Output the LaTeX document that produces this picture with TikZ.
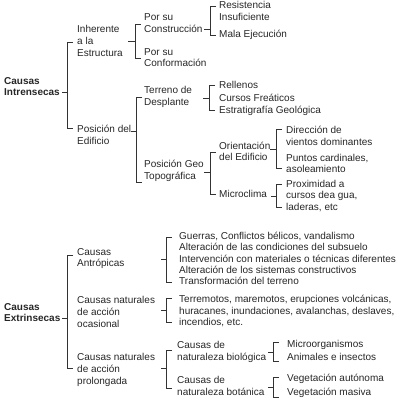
\documentclass[tikz,border=0pt]{standalone}
\usepackage{fontspec}
\setmainfont{Liberation Sans}
\definecolor{txt}{HTML}{262626}
\definecolor{ln}{HTML}{333333}
\tikzset{
 lbl/.style={anchor=west, inner sep=0pt, align=left, font=\fontsize{10}{11.6}\selectfont, text=txt},
 mainlbl/.style={lbl, font=\bfseries\fontsize{10}{11.6}\selectfont},
 brk/.style={draw=ln, line width=0.8pt},
}
% tick x start, vertical x, tick y, top y, bottom y, hook end x
\newcommand\bkt[6]{\draw[brk] (#1,#3)--(#2,#3); \draw[brk] (#6,#4)-|(#2,#5)--(#6,#5);}
\begin{document}
\begin{tikzpicture}[x=1pt,y=-1pt]
\useasboundingbox (0,0) rectangle (400,403);
% ---------- Intrensecas
\node[mainlbl] (ci) at (4,86.5) {Causas\\Intrensecas};
\node[lbl] (inh) at (77,41) {Inherente\\a la\\Estructura};
\node[lbl] (pos) at (77,135) {Posición del\\Edificio};
\node[lbl] (psc) at (144,23) {Por su\\Construcción};
\node[lbl] (psf) at (144,57.5) {Por su\\Conformación};
\node[lbl] (res) at (219,11) {Resistencia\\Insuficiente};
\node[lbl] (mal) at (219,35) {Mala Ejecución};
\node[lbl] (ter) at (144,97) {Terreno de\\Desplante};
\node[lbl] (pgt) at (144,171) {Posición Geo\\Topográfica};
\node[lbl] (rel) at (219,85) {Rellenos};
\node[lbl] (cfr) at (219,98) {Cursos Freáticos};
\node[lbl] (est) at (219,111) {Estratigrafía Geológica};
\node[lbl] (ori) at (219,151.5) {Orientación\\del Edificio};
\node[lbl] (mic) at (219,194) {Microclima};
\node[lbl] (dir) at (286,136) {Dirección de\\vientos dominantes};
\node[lbl] (pun) at (286,163.5) {Puntos cardinales,\\asoleamiento};
\node[lbl] (pro) at (286,196) {Proximidad a\\cursos dea gua,\\laderas, etc};
% ---------- Extrinsecas
\node[mainlbl] (ce) at (4,312.5) {Causas\\Extrinsecas};
\node[lbl] (ant) at (77,258.5) {Causas\\Antrópicas};
\node[lbl] (oca) at (77,312) {Causas naturales\\de acción\\ocasional};
\node[lbl] (prl) at (77,370) {Causas naturales\\de acción\\prolongada};
\node[lbl] (a1) at (179,236) {Guerras, Conflictos bélicos, vandalismo};
\node[lbl] (a2) at (179,247) {Alteración de las condiciones del subsuelo};
\node[lbl] (a3) at (179,258.5) {Intervención con materiales o técnicas diferentes};
\node[lbl] (a4) at (179,270) {Alteración de los sistemas constructivos};
\node[lbl] (a5) at (179,281) {Transformación del terreno};
\node[lbl] (o1) at (179,300) {Terremotos, maremotos, erupciones volcánicas,};
\node[lbl] (o2) at (179,311.5) {huracanes, inundaciones, avalanchas, deslaves,};
\node[lbl] (o3) at (179,323) {incendios, etc.};
\node[lbl] (bio) at (177,352) {Causas de\\naturaleza biológica};
\node[lbl] (bot) at (177,386) {Causas de\\naturaleza botánica};
\node[lbl] (m1) at (287,345) {Microorganismos};
\node[lbl] (m2) at (287,357) {Animales e insectos};
\node[lbl] (v1) at (287,379) {Vegetación autónoma};
\node[lbl] (v2) at (287,393) {Vegetación masiva};
% ---------- brackets
\bkt{62}{67}{92}{42}{128}{73}
\bkt{128}{135}{41}{24}{58}{141}
\bkt{204}{210}{29}{6}{35}{216}
\bkt{131}{136}{131}{97}{182}{142}
\bkt{203}{209}{98}{85}{110}{215}
\bkt{204}{210}{172}{152}{194}{216}
\bkt{270}{276}{149}{129}{168}{282}
\bkt{271}{276}{196}{184}{207}{282}
\bkt{62}{67}{318}{255}{368}{73}
\bkt{161}{166}{259}{237}{282}{172}
\bkt{161}{166}{310}{298}{322}{172}
\bkt{161}{166}{368}{350}{388}{172}
\bkt{268}{273}{352}{342}{361}{279}
\bkt{268}{273}{387}{377}{397}{279}
\end{tikzpicture}
\end{document}
